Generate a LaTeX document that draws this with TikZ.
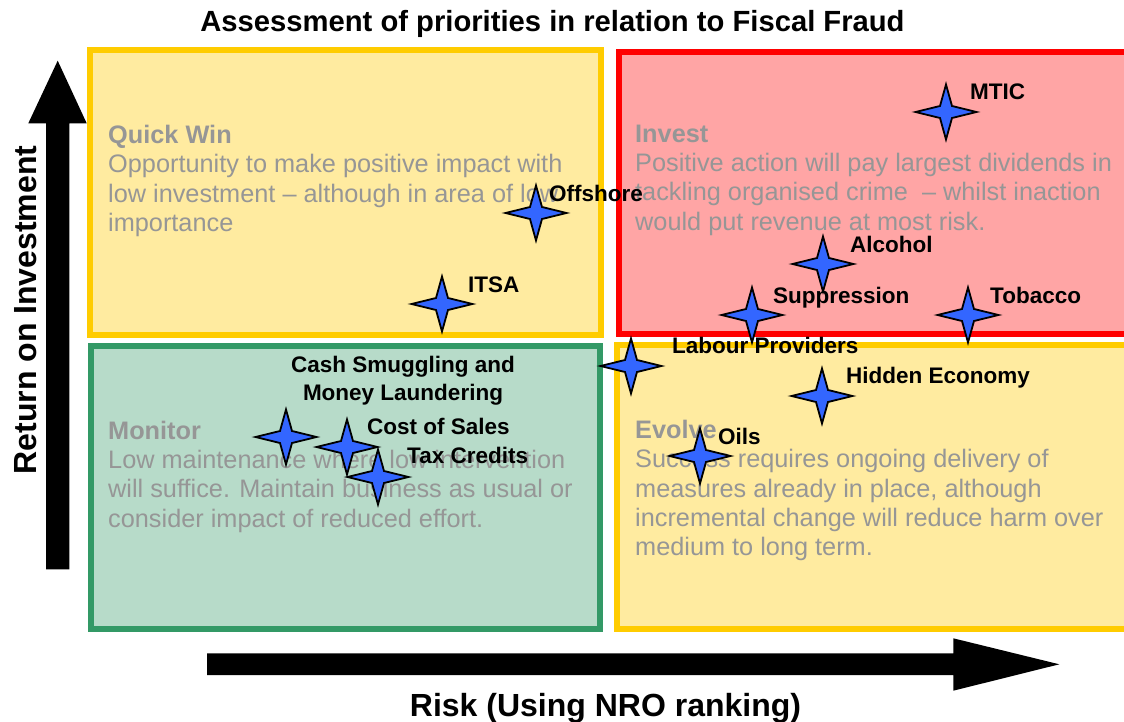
\documentclass[tikz,border=0pt]{standalone}
\usepackage{fontspec}
\setmainfont{Liberation Sans}
\definecolor{ylwline}{RGB}{255,204,0}
\definecolor{ylwfill}{RGB}{255,235,160}
\definecolor{redline}{RGB}{255,0,0}
\definecolor{redfill}{RGB}{255,165,165}
\definecolor{grnline}{RGB}{51,153,102}
\definecolor{grnfill}{RGB}{183,219,201}
\definecolor{qtext}{RGB}{150,150,150}
\definecolor{starblue}{RGB}{51,102,255}
\begin{document}
\begin{tikzpicture}[x=1pt,y=-1pt,
  qbox/.style={line width=6pt},
  qtxt/.style={anchor=north west, inner sep=0pt, align=left, text=qtext,
    font=\fontsize{25.3}{29.3}\selectfont},
  lbl/.style={anchor=base west, inner sep=0pt, font=\fontsize{22.5}{27.3}\selectfont\bfseries},
  axlbl/.style={inner sep=0pt, font=\fontsize{32}{37}\selectfont\bfseries},
  fstar/.pic={\draw[line width=1.8pt, fill=starblue, line join=miter]
    (0,-27.5) -- (6,-6) -- (30.5,0) -- (6,6) -- (0,27.5) -- (-6,6) -- (-30.5,0) -- (-6,-6) -- cycle;}
]
\useasboundingbox (0,0) rectangle (1124,722);
\clip (0,0) rectangle (1124,722);
\fill[white] (0,0) rectangle (1124,722);

% title
\node[anchor=base, inner sep=0pt, font=\fontsize{29.2}{33}\selectfont\bfseries] (title) at (552.5,32)
  {Assessment of priorities in relation to Fiscal Fraud};

% quadrants
\draw[qbox, draw=ylwline, fill=ylwfill] (89.7,50.3) rectangle (601,335);
\draw[qbox, draw=redline, fill=redfill] (619,52) rectangle (1140,333.7);
\draw[qbox, draw=grnline, fill=grnfill] (90.5,346) rectangle (600,629);
\draw[qbox, draw=ylwline, fill=ylwfill] (617,344.7) rectangle (1140,629);

% quadrant texts
\node[qtxt] (quickwin) at (108,125) {\textbf{Quick Win}\\Opportunity to make positive impact with\\low investment -- although in area of low\\importance};
\node[qtxt] (invest) at (635,124.6) {\textbf{Invest}\\Positive action will pay largest dividends in\\tackling organised crime\ \ -- whilst inaction\\would put revenue at most risk.};
\node[qtxt] (monitor) at (108,420.8) {\textbf{Monitor}\\Low maintenance where low intervention\\will suffice. Maintain business as usual or\\consider impact of reduced effort.};
\node[qtxt] (evolve) at (635,420) {\textbf{Evolve}\\Success requires ongoing delivery of\\measures already in place, although\\incremental change will reduce harm over\\medium to long term.};

% axes arrows
\fill[black] (46,569.3) -- (46,123.3) -- (28.3,123.3) -- (57.7,60.7) -- (86.7,123.3) -- (69.3,123.3) -- (69.3,569.3) -- cycle;
\fill[black] (207,653.3) -- (953.3,653.3) -- (953.3,638.3) -- (1059.3,664.3) -- (953.3,690.7) -- (953.3,675) -- (207,675) -- cycle;

\node[axlbl, anchor=base, rotate=90] (ylabel) at (36,310) {Return on Investment};
\node[axlbl, anchor=base] (xlabel) at (605.5,716.5) {Risk (Using NRO ranking)};

% stars
\coordinate (sMTIC) at (946,112);
\coordinate (sOff) at (536,213);
\coordinate (sITSA) at (442,304);
\coordinate (sAlc) at (823,264);
\coordinate (sSup) at (752,315);
\coordinate (sTob) at (968,315);
\coordinate (sLab) at (631,366);
\coordinate (sHid) at (822,396);
\coordinate (sOils) at (700,456);
\coordinate (sCash) at (286,437);
\coordinate (sCost) at (347,447);
\coordinate (sTax) at (378,477);

\foreach \s in {sMTIC,sOff,sITSA,sAlc,sSup,sTob,sLab,sHid,sOils,sCash,sCost,sTax}
  \pic at (\s) {fstar};

% labels
\node[lbl] (lMTIC) at (970,100) {MTIC};
\node[lbl] (lOff) at (549,202) {Offshore};
\node[lbl] (lITSA) at (468,292) {ITSA};
\node[lbl] (lAlc) at (850,252) {Alcohol};
\node[lbl] (lSup) at (773,303) {Suppression};
\node[lbl] (lTob) at (990,303) {Tobacco};
\node[lbl] (lLab) at (672,353) {Labour Providers};
\node[lbl] (lHid) at (846,383.5) {Hidden Economy};
\node[lbl] (lOils) at (718,444) {Oils};
\node[lbl, anchor=north, align=center] (lCash) at (403,356.3) {Cash Smuggling and\\Money Laundering};
\node[lbl] (lCost) at (367,434) {Cost of Sales};
\node[lbl] (lTax) at (407,463) {Tax Credits};
\end{tikzpicture}
\end{document}
